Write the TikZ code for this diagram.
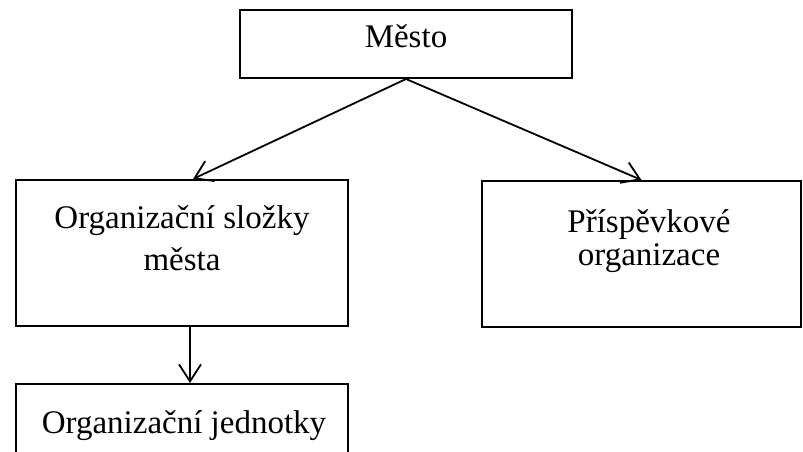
\documentclass[tikz,border=0pt]{standalone}
\usepackage{fontspec}
\setmainfont{Liberation Serif}
\usetikzlibrary{arrows.meta}

\begin{document}
\begin{tikzpicture}[x=1pt,y=-1pt,
    box/.style={draw=black, line width=2pt, rectangle, inner sep=0pt},
    lbl/.style={font=\fontsize{33}{42}\selectfont, align=center, inner sep=0pt, anchor=base},
    link/.style={line width=1.8pt, -{Straight Barb[length=17pt,width=22pt,line width=1.8pt]}}]

  % canvas
  \clip (0,0) rectangle (803,452);
  \fill[white] (0,0) rectangle (803,452);

  % boxes
  \node[box, minimum width=332pt, minimum height=68pt]  (mesto)  at (406,44)   {};
  \node[box, minimum width=332pt, minimum height=146pt] (slozky) at (182,253)  {};
  \node[box, minimum width=319pt, minimum height=146pt] (prisp)  at (641.5,254) {};
  \node[box, minimum width=332pt, minimum height=120pt] (jedn)   at (182,444)  {};

  % labels (base anchor sits on the last line)
  \node[lbl] (mestoT)  at (406,48)  {Město};
  \node[lbl] (slozkyT) at (182,270) {Organizační složky\\města};
  \node[lbl, font=\fontsize{33}{33}\selectfont] (prispT) at (649,265) {Příspěvkové\\organizace};
  \node[lbl] (jednT)   at (184,433) {Organizační jednotky};

  % connectors
  \draw[link] (mesto.south) -- ([xshift=11pt]slozky.north);
  \draw[link] (mesto.south) -- (prisp.north);
  \draw[link] ([xshift=8pt]slozky.south) -- ([xshift=8pt]jedn.north);
\end{tikzpicture}
\end{document}
